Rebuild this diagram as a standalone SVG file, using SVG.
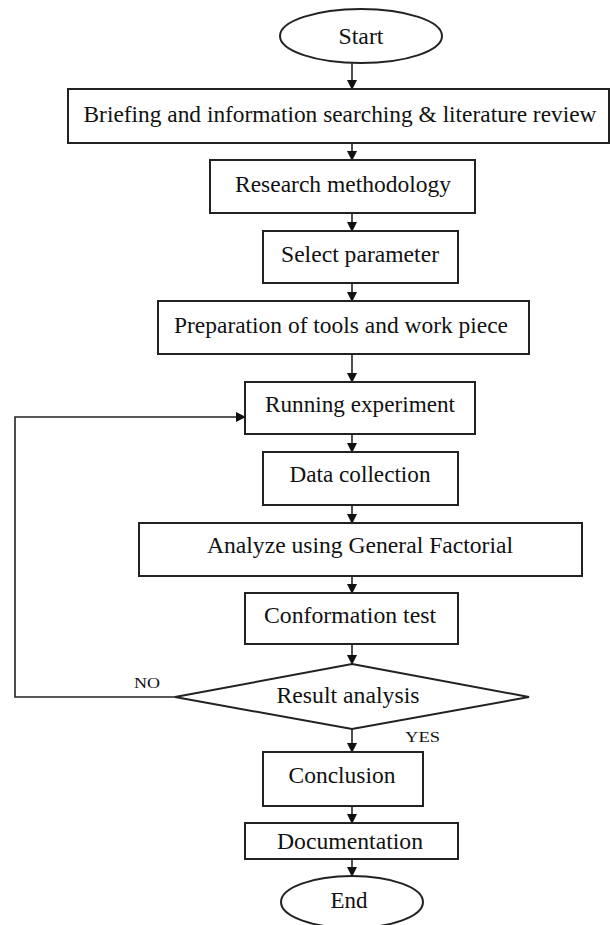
<svg xmlns="http://www.w3.org/2000/svg" width="610" height="925" viewBox="0 0 610 925">
<style>
.box{fill:#fff;stroke:#222;stroke-width:2}
.t{font-family:"Liberation Serif","Times New Roman",serif;font-size:23px;fill:#111;text-anchor:middle}
.s{font-family:"Liberation Serif","Times New Roman",serif;font-size:15px;fill:#111}
.c{fill:none;stroke:#222;stroke-width:1.6}
</style>
<defs>
<marker id="ah" markerUnits="userSpaceOnUse" markerWidth="10" markerHeight="10" refX="9" refY="5" orient="auto">
<path d="M0,0 L10,5 L0,10 Z" fill="#111"/>
</marker>
</defs>
<rect width="610" height="925" fill="#fff"/>
<g id="connectors">
<line class="c" x1="352" y1="63" x2="352" y2="89" marker-end="url(#ah)"/>
<line class="c" x1="352" y1="143" x2="352" y2="160" marker-end="url(#ah)"/>
<line class="c" x1="352" y1="213" x2="352" y2="231" marker-end="url(#ah)"/>
<line class="c" x1="352" y1="283" x2="352" y2="301" marker-end="url(#ah)"/>
<line class="c" x1="352" y1="354" x2="352" y2="382" marker-end="url(#ah)"/>
<line class="c" x1="352" y1="434" x2="352" y2="452" marker-end="url(#ah)"/>
<line class="c" x1="352" y1="505" x2="352" y2="523" marker-end="url(#ah)"/>
<line class="c" x1="352" y1="576" x2="352" y2="593" marker-end="url(#ah)"/>
<line class="c" x1="352" y1="644" x2="352" y2="664" marker-end="url(#ah)"/>
<line class="c" x1="352" y1="729" x2="352" y2="752" marker-end="url(#ah)"/>
<line class="c" x1="352" y1="806" x2="352" y2="823" marker-end="url(#ah)"/>
<line class="c" x1="352" y1="859" x2="352" y2="876" marker-end="url(#ah)"/>
<path class="c" d="M175,697 H15 V417 H245" marker-end="url(#ah)"/>
<text class="s" x="134" y="688" textLength="26" lengthAdjust="spacingAndGlyphs">NO</text>
<text class="s" x="405" y="742" textLength="35" lengthAdjust="spacingAndGlyphs">YES</text>
</g>
<g id="start"><ellipse class="box" cx="361" cy="36" rx="81" ry="27"/><text class="t" x="361" y="44" textLength="45" lengthAdjust="spacingAndGlyphs">Start</text></g>
<g id="briefing"><rect class="box" x="68" y="89" width="541" height="54"/><text class="t" x="340" y="122" textLength="513" lengthAdjust="spacingAndGlyphs">Briefing and information searching &amp; literature review</text></g>
<g id="research"><rect class="box" x="210" y="160" width="265" height="53"/><text class="t" x="343" y="192" textLength="216" lengthAdjust="spacingAndGlyphs">Research methodology</text></g>
<g id="select"><rect class="box" x="263" y="231" width="195" height="52"/><text class="t" x="360" y="262" textLength="158" lengthAdjust="spacingAndGlyphs">Select parameter</text></g>
<g id="preparation"><rect class="box" x="158" y="301" width="371" height="53"/><text class="t" x="341" y="333" textLength="334" lengthAdjust="spacingAndGlyphs">Preparation of tools and work piece</text></g>
<g id="running"><rect class="box" x="245" y="382" width="230" height="52"/><text class="t" x="360" y="412" textLength="190" lengthAdjust="spacingAndGlyphs">Running experiment</text></g>
<g id="data"><rect class="box" x="263" y="452" width="195" height="53"/><text class="t" x="360" y="482" textLength="141" lengthAdjust="spacingAndGlyphs">Data collection</text></g>
<g id="analyze"><rect class="box" x="139" y="523" width="443" height="53"/><text class="t" x="360" y="553" textLength="306" lengthAdjust="spacingAndGlyphs">Analyze using General Factorial</text></g>
<g id="conformation"><rect class="box" x="245" y="593" width="213" height="51"/><text class="t" x="350" y="623" textLength="172" lengthAdjust="spacingAndGlyphs">Conformation test</text></g>
<g id="result"><polygon class="box" points="352,664 529,697 352,729 175,697"/><text class="t" x="348" y="703" textLength="143" lengthAdjust="spacingAndGlyphs">Result analysis</text></g>
<g id="conclusion"><rect class="box" x="263" y="752" width="160" height="54"/><text class="t" x="342" y="783" textLength="107" lengthAdjust="spacingAndGlyphs">Conclusion</text></g>
<g id="documentation"><rect class="box" x="245" y="823" width="213" height="36"/><text class="t" x="350" y="849" textLength="146" lengthAdjust="spacingAndGlyphs">Documentation</text></g>
<g id="end"><ellipse class="box" cx="352" cy="902" rx="71" ry="26"/><text class="t" x="349" y="908" textLength="37" lengthAdjust="spacingAndGlyphs">End</text></g>
</svg>
